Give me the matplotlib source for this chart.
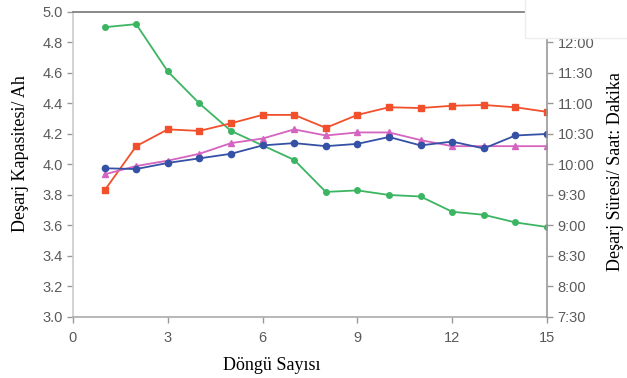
import matplotlib.pyplot as plt
from matplotlib.patches import Rectangle

# data
cycles = list(range(1, 16))
green = [4.90, 4.92, 4.61, 4.40, 4.22, 4.125, 4.03, 3.82, 3.83, 3.80, 3.79, 3.69, 3.67, 3.62, 3.59]
red = [3.83, 4.12, 4.23, 4.22, 4.27, 4.325, 4.325, 4.24, 4.325, 4.375, 4.37, 4.385, 4.39, 4.375, 4.345]
blue = [3.975, 3.97, 4.01, 4.04, 4.07, 4.125, 4.14, 4.12, 4.135, 4.18, 4.125, 4.15, 4.105, 4.19, 4.20]
magenta = [3.935, 3.99, 4.025, 4.07, 4.14, 4.17, 4.23, 4.19, 4.21, 4.21, 4.16, 4.12, 4.12, 4.12, 4.12]

x_ticks = [0, 3, 6, 9, 12, 15]
left_ticks = [3.0, 3.2, 3.4, 3.6, 3.8, 4.0, 4.2, 4.4, 4.6, 4.8, 5.0]
right_ticks = [7.5, 8.0, 8.5, 9.0, 9.5, 10.0, 10.5, 11.0, 11.5, 12.0]

tick_color = '#5a5a5a'
serif = ['Liberation Serif', 'DejaVu Serif']

fig = plt.figure(figsize=(6.27, 3.78), dpi=100)
ax = fig.add_axes([0.1164, 0.1614, 0.756, 0.807])

ax.plot(cycles, green, color='#3cb563', marker='o', markersize=4, lw=1.3, zorder=3)
ax.plot(cycles, red, color='#f2502c', marker='s', markersize=4.5, lw=1.3, zorder=3)
ax.plot(cycles, magenta, color='#d563c0', marker='^', markersize=5, lw=1.3, zorder=3)
ax.plot(cycles, blue, color='#3551a6', marker='o', markersize=4.5, lw=1.3, zorder=4)

ax.set_xlim(0, 15)
ax.set_ylim(3.0, 5.0)
ax.set_xticks(x_ticks)
ax.set_yticks(left_ticks)
ax.set_yticklabels([f'{v:.1f}' for v in left_ticks])
ax.tick_params(colors='#999999', labelcolor=tick_color, labelsize=10.5, length=4, width=1)
ax.tick_params(axis='x', pad=6)
for lab in ax.get_xticklabels() + ax.get_yticklabels():
    lab.set_family(['Liberation Sans', 'DejaVu Sans'])

ax.spines['left'].set_color('#cccccc')
ax.spines['bottom'].set_color('#aaaaaa')
ax.spines['top'].set_color('#777777')
ax.spines['right'].set_visible(False)
for s in ['left', 'bottom', 'top']:
    ax.spines[s].set_linewidth(1.2)

ax2 = ax.twinx()
ax2.set_ylim(7.5, 12.5)
ax2.set_yticks(right_ticks)
ax2.set_yticklabels([f'{int(v)}:{int(round((v % 1) * 60)):02d}' for v in right_ticks])
ax2.tick_params(colors='#999999', labelcolor=tick_color, labelsize=10.5, length=4, width=1)
for lab in ax2.get_yticklabels():
    lab.set_family(['Liberation Sans', 'DejaVu Sans'])
for s in ['left', 'bottom', 'top']:
    ax2.spines[s].set_visible(False)
ax2.spines['right'].set_color('#999999')
ax2.spines['right'].set_linewidth(1.2)

fig.text(0.433, 0.034, 'Döngü Sayısı', family=serif, fontsize=13,
         ha='center', va='center')
fig.text(0.032, 0.595, 'Deşarj Kapasitesi/ Ah', family=serif, fontsize=13,
         rotation=90, ha='center', va='center')
fig.text(0.982, 0.545, 'Deşarj Süresi/ Saat: Dakika', family=serif, fontsize=13,
         rotation=90, ha='center', va='center')

# white box covering the top right corner
fig.patches.append(Rectangle((0.838, 0.9), 0.17, 0.11, transform=fig.transFigure,
                             facecolor='white', edgecolor='#eeeeee', lw=1, zorder=10))

fig.savefig('out.png', dpi=100)
